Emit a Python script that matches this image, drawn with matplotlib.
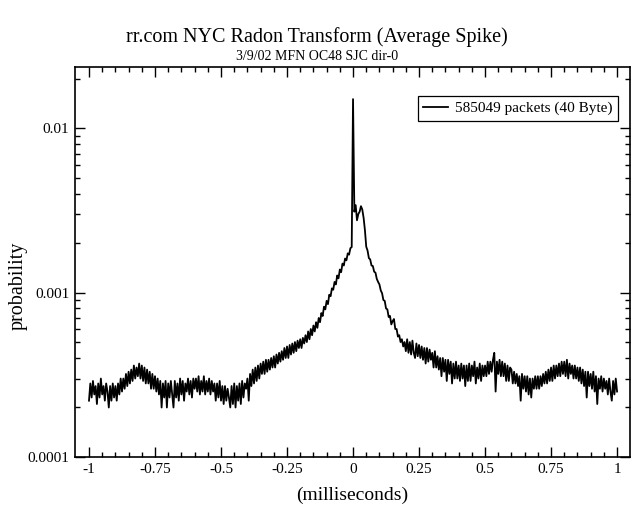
import numpy as np
import matplotlib
matplotlib.use('Agg')
import matplotlib.pyplot as plt
from matplotlib.ticker import FixedLocator, NullFormatter, LogLocator

plt.rcParams['font.family'] = ['Liberation Serif', 'DejaVu Serif']

# Average spike, sampled every 0.005 ms from -1 to 1 (probability x 1e-4)
prob_e4 = [
    2.2, 2.8, 2.3, 2.9, 2.4, 2.7, 2.1, 2.8, 2.3, 3.0, 2.4, 2.7, 2.2, 2.8, 2.5, 2.0, 2.7, 2.2, 2.8, 2.3,
    2.7, 2.2, 2.8, 2.4, 3.0, 2.5, 3.0, 2.6, 3.2, 2.7, 3.3, 2.8, 3.4, 2.9, 3.6, 3.0, 3.5, 3.1, 3.7, 3.0,
    3.6, 2.9, 3.5, 2.8, 3.4, 2.8, 3.3, 2.6, 3.2, 2.6, 3.1, 2.5, 3.0, 2.4, 2.9, 2.0, 2.8, 2.3, 2.9, 2.0,
    2.8, 2.3, 2.9, 2.4, 2.0, 2.9, 2.3, 2.8, 2.2, 3.0, 2.4, 2.9, 2.2, 2.8, 2.5, 3.0, 2.4, 2.9, 2.3, 3.0,
    2.6, 3.0, 2.5, 3.1, 2.4, 2.9, 2.5, 3.1, 2.4, 2.9, 2.5, 3.0, 2.4, 2.9, 2.5, 2.8, 2.2, 2.8, 2.3, 2.9,
    2.2, 2.7, 2.1, 2.7, 2.2, 2.6, 2.3, 2.0, 2.7, 2.1, 2.8, 2.0, 2.7, 2.2, 2.8, 2.1, 2.9, 2.3, 2.8, 2.6,
    3.0, 2.2, 3.2, 2.7, 3.4, 2.8, 3.5, 2.9, 3.6, 3.0, 3.7, 3.2, 3.8, 3.2, 3.9, 3.3, 3.9, 3.4, 4.0, 3.5,
    4.1, 3.5, 4.2, 3.7, 4.3, 3.8, 4.4, 3.9, 4.6, 4.0, 4.7, 4.0, 4.8, 4.2, 4.9, 4.3, 5.0, 4.4, 5.1, 4.6,
    5.2, 4.6, 5.3, 4.9, 5.5, 5.0, 5.8, 5.2, 6.0, 5.5, 6.3, 5.8, 6.6, 6.1, 7.0, 6.6, 7.5, 7.2, 8.2, 7.9,
    8.9, 8.5, 9.7, 9.5, 10.6, 10.4, 11.6, 11.2, 12.7, 12.2, 13.8, 13.3, 15.0, 14.6, 16.1, 15.7, 17.3, 17.0, 18.6, 18.9,
    150.0, 31.0, 34.0, 27.5, 30.0, 31.0, 33.5, 32.0, 28.5, 24.0, 19.0, 18.0, 16.2, 15.9, 14.6, 14.5, 13.4, 13.2, 12.1, 11.6,
    11.2, 10.3, 9.9, 9.0, 8.9, 8.0, 7.9, 7.1, 7.2, 6.4, 6.7, 6.9, 6.0, 6.0, 5.4, 5.5, 5.0, 5.2, 4.7, 5.0,
    4.4, 5.2, 4.3, 5.0, 4.2, 5.1, 4.3, 4.0, 4.9, 4.1, 4.8, 4.0, 4.7, 3.9, 4.6, 3.7, 4.6, 3.8, 4.5, 3.9,
    4.3, 3.5, 4.4, 3.5, 4.1, 3.4, 4.0, 3.1, 4.0, 3.3, 3.9, 2.9, 3.9, 3.2, 3.8, 2.8, 3.7, 3.0, 3.8, 3.0,
    3.6, 2.9, 3.7, 3.0, 3.6, 2.7, 3.6, 2.9, 3.7, 2.9, 3.6, 3.1, 3.8, 2.8, 3.5, 3.0, 3.7, 2.9, 3.6, 3.1,
    3.6, 3.1, 3.8, 3.2, 3.8, 3.3, 3.9, 4.3, 2.5, 3.8, 3.2, 3.9, 3.1, 3.8, 3.1, 3.7, 2.9, 3.6, 2.9, 3.5,
    3.4, 2.8, 3.3, 2.8, 3.2, 2.7, 3.1, 2.2, 3.2, 2.6, 3.1, 2.5, 3.1, 2.4, 3.0, 2.3, 3.0, 2.6, 3.1, 2.6,
    3.1, 2.6, 3.1, 2.7, 3.2, 2.8, 3.3, 2.8, 3.4, 2.9, 3.5, 2.9, 3.6, 3.0, 3.6, 3.1, 3.7, 3.1, 3.8, 3.2,
    3.8, 3.1, 3.9, 3.0, 3.7, 3.2, 3.6, 3.0, 3.6, 3.0, 3.5, 2.9, 3.5, 2.8, 3.4, 2.7, 3.3, 2.3, 3.3, 2.7,
    3.2, 2.6, 3.3, 2.5, 3.1, 2.1, 3.0, 2.6, 3.1, 2.5, 3.0, 2.6, 2.9, 2.4, 3.0, 2.5, 2.2, 2.9, 2.4, 3.0,
    2.5,
]
x_ms = np.linspace(-1, 1, len(prob_e4))
prob = np.array(prob_e4) * 1e-4

xticks = [-1, -0.75, -0.5, -0.25, 0, 0.25, 0.5, 0.75, 1]
xticklabels = ['-1', '-0.75', '-0.5', '-0.25', '0', '0.25', '0.5', '0.75', '1']
yticks = [0.0001, 0.001, 0.01]
yticklabels = ['0.0001', '0.001', '0.01']

fig = plt.figure(figsize=(6.34, 5.08), dpi=100)
ax = fig.add_axes([0.1183, 0.1004, 0.8754, 0.7676])

ax.plot(x_ms, prob, color='black', lw=1.3, label='585049 packets (40 Byte)')

ax.set_yscale('log')
ax.set_xlim(-1.053, 1.049)
ax.set_ylim(1e-4, 0.0235)

ax.xaxis.set_major_locator(FixedLocator(xticks))
ax.set_xticklabels(xticklabels)
ax.xaxis.set_minor_locator(FixedLocator(np.arange(-1, 1.001, 0.05)))
ax.yaxis.set_major_locator(FixedLocator(yticks))
ax.set_yticklabels(yticklabels)
ax.yaxis.set_minor_locator(LogLocator(base=10, subs=np.arange(2, 10)))
ax.yaxis.set_minor_formatter(NullFormatter())

ax.tick_params(which='both', direction='in', top=True, right=True, width=1.0)
ax.tick_params(which='major', length=7, labelsize=11, pad=4)
ax.tick_params(which='minor', length=3.6)
for s in ax.spines.values():
    s.set_linewidth(1.2)

ax.set_ylabel('probability', fontsize=14.5)
ax.yaxis.set_label_coords(-0.085, 0.44)
ax.set_xlabel('(milliseconds)', fontsize=14, labelpad=8)

fig.text(0.5, 0.927, 'rr.com NYC Radon Transform (Average Spike)', ha='center', va='center', fontsize=14.5)
fig.text(0.5, 0.889, '3/9/02 MFN OC48 SJC dir-0', ha='center', va='center', fontsize=10)

leg = ax.legend(loc='upper right', bbox_to_anchor=(0.975, 0.811), bbox_transform=fig.transFigure,
                borderaxespad=0, fancybox=False, fontsize=11, handlelength=1.6, handletextpad=0.5,
                borderpad=0.35, framealpha=1)
leg.get_frame().set_edgecolor('black')
leg.get_frame().set_linewidth(0.9)

fig.savefig('out.png', dpi=100)
